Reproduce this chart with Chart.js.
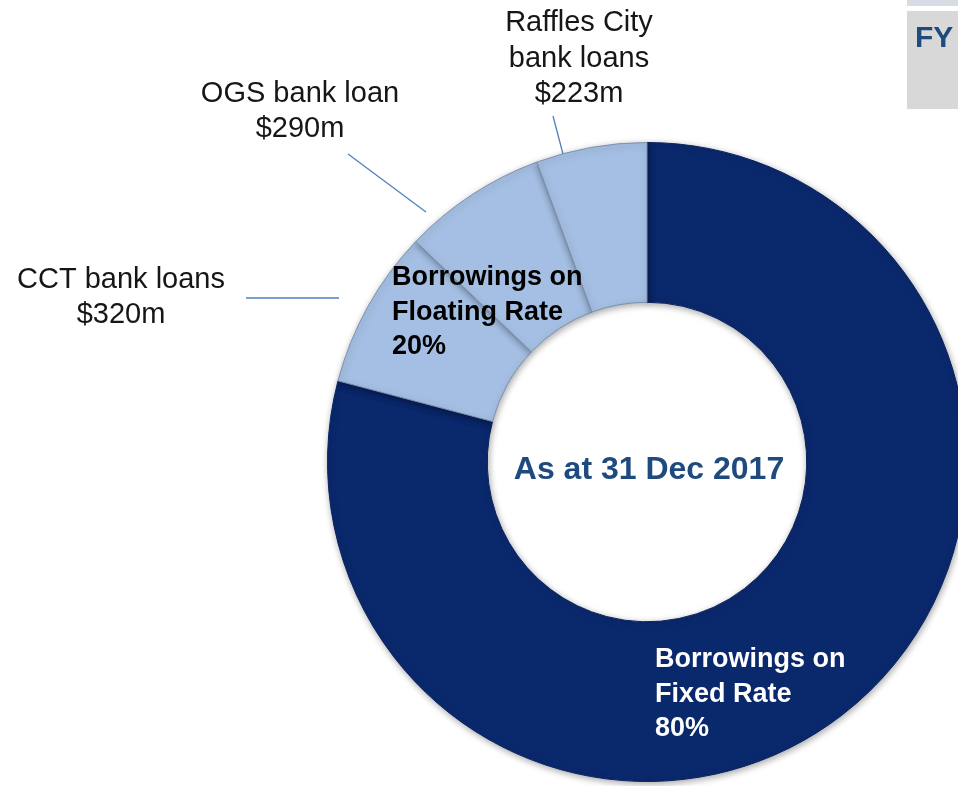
<!DOCTYPE html>
<html>
<head>
<meta charset="utf-8">
<script src="https://cdn.jsdelivr.net/npm/chart.js@4"></script>
<style>
html, body { margin: 0; padding: 0; background: #fff; overflow: hidden; }
#wrap { position: absolute; left: 0; top: 0; width: 1000px; height: 786px; }
</style>
</head>
<body>
<div id="wrap"><canvas id="borrowings"></canvas></div>
<script>
"use strict";
// S$ million (floating part ~21% of the circle)
const segmentNames = ['Borrowings on Fixed Rate', 'CCT bank loans', 'OGS bank loan', 'Raffles City bank loans'];
const amounts = [3150, 320, 290, 223];
const segmentColors = ['#0a286c', '#a4bfe3', '#a4bfe3', '#a4bfe3'];
const segmentBorders = ['#09235f', '#7d90ae', '#7d90ae', '#7d90ae'];
const calloutLines = [null, ['CCT bank loans', '$320m'], ['OGS bank loan', '$290m'], ['Raffles City', 'bank loans', '$223m']];
const fixedText = ['Borrowings on', 'Fixed Rate', '80%'];
const floatingText = ['Borrowings on', 'Floating Rate', '20%'];
const centerText = 'As at 31 Dec 2017';
const cornerText = 'FY';

const FONT = "'Liberation Sans', Arial, sans-serif";

// where each callout sits on the page: text centre x, first baseline, line step, leader line
const calloutLayout = [
    null,
    { x: 121, y: 288, step: 35, line: [246, 298, 339, 298] },
    { x: 300, y: 102, step: 35, line: [348, 154, 426, 212] },
    { x: 579, y: 31, step: 35.5, line: [553, 116, 563, 154] }
];

const drawLines = (c, lines, x, y, step) =>
    lines.forEach((t, i) => c.fillText(t, x, y + i * step));

const annotate = {
    id: 'annotate',
    beforeDatasetsDraw(chart)
    {
        const c = chart.ctx;
        c.save();
        c.shadowColor = 'rgba(0,0,0,0.35)';
        c.shadowBlur = 7;
        c.shadowOffsetX = 1;
        c.shadowOffsetY = 2;
    },
    afterDatasetsDraw(chart) { chart.ctx.restore(); },
    afterDraw(chart)
    {
        const c = chart.ctx;
        const arc = chart.getDatasetMeta(0).data[0];
        c.save();

        // corner tab
        c.fillStyle = '#d6dce3';
        c.fillRect(907, 0, 60, 6);
        c.fillStyle = '#d8d8d8';
        c.fillRect(907, 11, 60, 98);
        c.fillStyle = '#1f4a7e';
        c.font = `bold 30px ${FONT}`;
        c.textAlign = 'left';
        c.fillText(cornerText, 915, 47);

        // callouts with leader lines
        c.font = `29px ${FONT}`;
        c.textAlign = 'center';
        calloutLines.forEach((lines, i) =>
        {
            const l = calloutLayout[i];
            if (!lines || !l) return;
            c.fillStyle = '#161616';
            drawLines(c, lines, l.x, l.y, l.step);
            c.strokeStyle = '#4f81bd';
            c.lineWidth = 1.3;
            c.beginPath();
            c.moveTo(l.line[0], l.line[1]);
            c.lineTo(l.line[2], l.line[3]);
            c.stroke();
        });

        // labels in the ring
        c.font = `bold 27px ${FONT}`;
        c.textAlign = 'left';
        c.fillStyle = '#000';
        drawLines(c, floatingText, 392, 285, 34.5);
        c.fillStyle = '#fff';
        drawLines(c, fixedText, 655, 667, 34.5);

        c.font = `bold 32px ${FONT}`;
        c.textAlign = 'center';
        c.fillStyle = '#1f4a7e';
        c.fillText(centerText, arc.x + 2, arc.y + 17);
        c.restore();
    }
};

new Chart(document.getElementById('borrowings'), {
    type: 'doughnut',
    data: {
        labels: segmentNames,
        datasets: [{
            data: amounts,
            backgroundColor: segmentColors,
            borderColor: segmentBorders,
            borderWidth: 1
        }]
    },
    options: {
        responsive: true,
        maintainAspectRatio: false,
        animation: false,
        cutout: '50%',
        layout: { padding: { left: 327, top: 142, right: 33, bottom: 4 } },
        plugins: {
            legend: { display: false },
            tooltip: { enabled: false }
        }
    },
    plugins: [annotate]
});
</script>
</body>
</html>
